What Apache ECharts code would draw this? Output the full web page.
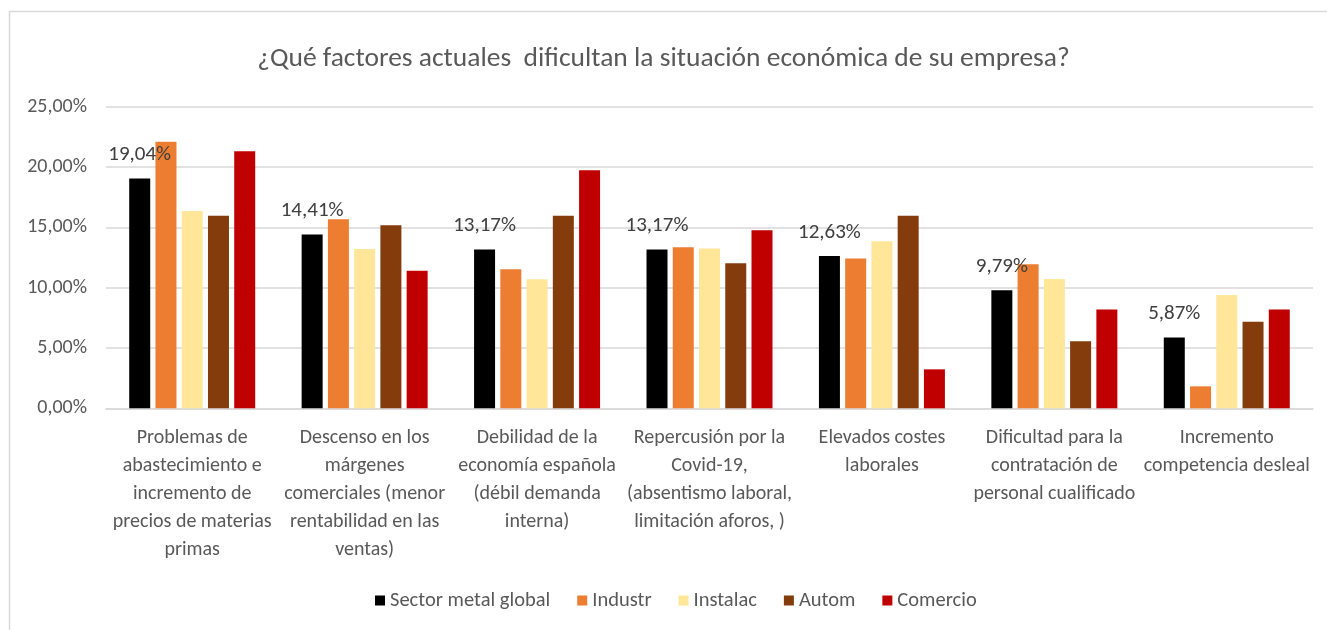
<!DOCTYPE html>
<html>
<head>
<meta charset="utf-8">
<title>Factores que dificultan la situación económica</title>
<script src="https://cdn.jsdelivr.net/npm/echarts@6/dist/echarts.min.js"></script>
<style>
  html, body { margin: 0; padding: 0; background: #fff; }
  #chart { width: 1327px; height: 630px; }
</style>
</head>
<body>
<div id="chart"></div>
<script>
// categorías del eje x (saltos de línea como en el original)
const categories = [
  'Problemas de\nabastecimiento e\nincremento de\nprecios de materias\nprimas',
  'Descenso en los\nmárgenes\ncomerciales (menor\nrentabilidad en las\nventas)',
  'Debilidad de la\neconomía española\n(débil demanda\ninterna)',
  'Repercusión por la\nCovid-19,\n(absentismo laboral,\nlimitación aforos, )',
  'Elevados costes\nlaborales',
  'Dificultad para la\ncontratación de\npersonal cualificado',
  'Incremento\ncompetencia desleal'
]
const seriesNames = ['Sector metal global', 'Industr', 'Instalac', 'Autom', 'Comercio']
const seriesColors = ['#000000', '#ED7D31', '#FFE699', '#843C0C', '#C00000']

// valores en %
const sectorMetal = [19.04, 14.41, 13.17, 13.17, 12.63, 9.79, 5.87]
const industr = [22.10, 15.67, 11.52, 13.35, 12.41, 11.94, 1.82]
const instalac = [16.36, 13.20, 10.70, 13.24, 13.85, 10.72, 9.40]
const autom = [15.97, 15.17, 15.97, 12.02, 15.97, 5.55, 7.18]
const comercio = [21.30, 11.41, 19.73, 14.76, 3.23, 8.18, 8.18]

const yMin = 0
const yMax = 25
const yInterval = 5

const FONT = 'Carlito, Lato, sans-serif'
const fmt = v => v.toFixed(2).replace('.', ',') + '%'

const chart = echarts.init(document.getElementById('chart'))

const allData = [sectorMetal, industr, instalac, autom, comercio]
const series = allData.map((d, i) => ({
  name: seriesNames[i],
  type: 'bar',
  data: d,
  barWidth: 21,
  barGap: '25%',
  itemStyle: { color: seriesColors[i] },
  label: i === 0 ? {
    show: true,
    position: 'top',
    distance: 13,
    formatter: p => fmt(p.value),
    color: '#404040',
    fontFamily: FONT,
    fontSize: 21
  } : { show: false },
  animation: false
}))

chart.setOption({
  backgroundColor: '#ffffff',
  animation: false,
  title: {
    text: '¿Qué factores actuales  dificultan la situación económica de su empresa?',
    left: 'center',
    top: 40,
    textStyle: {
      color: '#595959',
      fontFamily: FONT,
      fontSize: 27.5,
      fontWeight: 'normal'
    }
  },
  legend: {
    data: seriesNames,
    bottom: 14,
    left: 370,
    itemWidth: 10,
    itemHeight: 10,
    itemGap: 27,
    icon: 'rect',
    textStyle: { color: '#595959', fontFamily: FONT, fontSize: 20.5 }
  },
  grid: {
    left: 106,
    right: 14,
    top: 106.7,
    bottom: 221.7,
    containLabel: false
  },
  xAxis: {
    type: 'category',
    data: categories,
    axisLine: { lineStyle: { color: '#d9d9d9', width: 1.5 } },
    axisTick: { show: false },
    axisLabel: {
      interval: 0,
      margin: 16,
      color: '#595959',
      fontFamily: FONT,
      fontSize: 20,
      lineHeight: 28
    }
  },
  yAxis: {
    type: 'value',
    min: yMin,
    max: yMax,
    interval: yInterval,
    axisLine: { show: false },
    axisTick: { show: false },
    splitLine: { lineStyle: { color: '#d9d9d9', width: 1.5 } },
    axisLabel: {
      formatter: v => fmt(v),
      margin: 19,
      color: '#595959',
      fontFamily: FONT,
      fontSize: 20
    }
  },
  graphic: [{
    type: 'rect',
    silent: true,
    shape: { x: 9.5, y: 11.5, width: 1400, height: 700 },
    style: { fill: 'none', stroke: '#d9d9d9', lineWidth: 1.5 }
  }],
  series: series
})
</script>
</body>
</html>
